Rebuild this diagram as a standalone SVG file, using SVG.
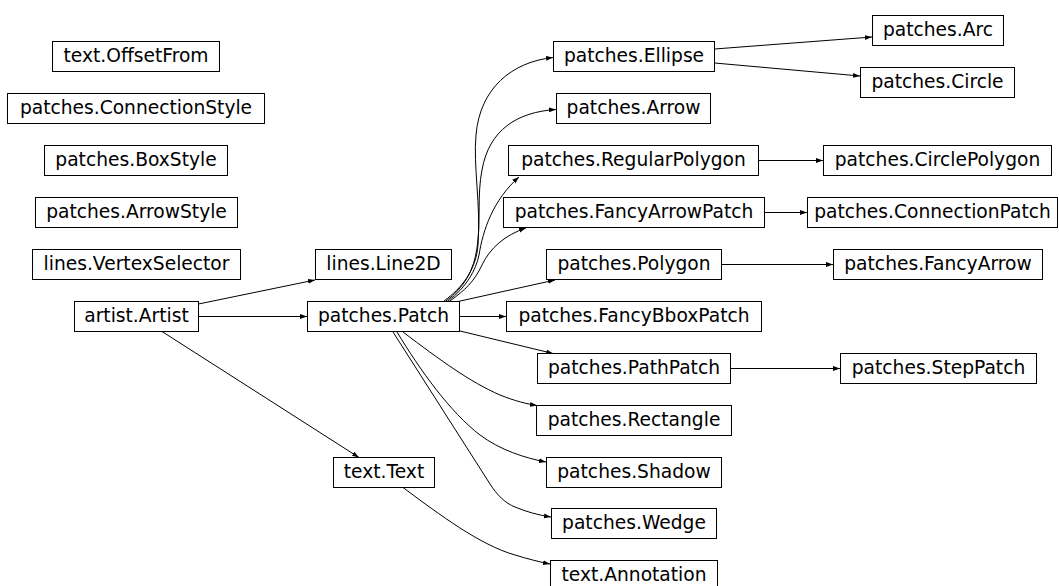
<svg xmlns="http://www.w3.org/2000/svg" width="1059" height="586" viewBox="0 0 1059 586">
<style>
.n rect{fill:#fff;stroke:#000;stroke-width:1}
.n text{font-family:"DejaVu Sans",sans-serif;font-size:18.67px;fill:#000;text-anchor:middle}
.e path{fill:none;stroke:#000;stroke-width:1;marker-end:url(#a)}
</style>
<defs>
<marker id="a" markerWidth="8" markerHeight="6" refX="7" refY="3" orient="auto" markerUnits="userSpaceOnUse"><path d="M0,0.6 L7,3 L0,5.4 z" fill="#000"/></marker>
</defs>
<rect width="1059" height="586" fill="#fff"/>
<g class="e" id="edges">
<path d="M198.5,304 L315,280"/>
<path d="M198.5,316.5 L307,316.5"/>
<path d="M162,331.5 L359,457.5"/>
<path d="M444,301 C462,288 476,270 478,245 C481,205 473,165 476,135 C480,88 512,62 553,57.5"/>
<path d="M446,301 C464,288 474,270 477,248 C481,220 477,195 482,170 C489,130 517,112 556,109.5"/>
<path d="M448,301 C466,288 476,270 479,255 C483,230 493,200 519,177"/>
<path d="M450,301 C465,290 474,282 482,265 C490,248 505,235 526,228"/>
<path d="M458,301.5 L555,280"/>
<path d="M459.5,316.5 L506,316.5"/>
<path d="M460,331 L553,353.5"/>
<path d="M403,332 C440,360 470,382 500,395 C515,401 527,404 537,405.5"/>
<path d="M397,332 C420,370 450,412 480,435 C500,450 525,458 546,462"/>
<path d="M393,332 L490,484 C497,495 505,503 515,507 C527,512 538,515 551,517"/>
<path d="M403,487.5 C440,515 480,545 515,555 C528,559 540,562 550,564"/>
<path d="M714.5,49 L872,37"/>
<path d="M714.5,63 L860,76"/>
<path d="M758.5,160.5 L823,160.5"/>
<path d="M764.5,212.5 L807,212.5"/>
<path d="M721.5,264.5 L833,264.5"/>
<path d="M730.5,368.5 L840,368.5"/>
</g>
<g class="n" id="text_OffsetFrom"><rect x="52.5" y="41.5" width="167" height="30"/><text x="136" y="62.1">text.OffsetFrom</text></g>
<g class="n" id="patches_ConnectionStyle"><rect x="7.5" y="93.5" width="257" height="30"/><text x="136" y="114.1">patches.ConnectionStyle</text></g>
<g class="n" id="patches_BoxStyle"><rect x="44.5" y="145.5" width="183" height="30"/><text x="136" y="166.1">patches.BoxStyle</text></g>
<g class="n" id="patches_ArrowStyle"><rect x="35.5" y="197.5" width="202" height="30"/><text x="136.5" y="218.1">patches.ArrowStyle</text></g>
<g class="n" id="lines_VertexSelector"><rect x="32.5" y="249.5" width="208" height="30"/><text x="136.5" y="270.1">lines.VertexSelector</text></g>
<g class="n" id="artist_Artist"><rect x="74.5" y="301.5" width="124" height="30"/><text x="136.5" y="322.1">artist.Artist</text></g>
<g class="n" id="lines_Line2D"><rect x="315.5" y="249.5" width="136" height="30"/><text x="383.5" y="270.1">lines.Line2D</text></g>
<g class="n" id="patches_Patch"><rect x="307.5" y="301.5" width="152" height="30"/><text x="383.5" y="322.1">patches.Patch</text></g>
<g class="n" id="text_Text"><rect x="333.5" y="457.5" width="101" height="30"/><text x="384" y="478.1">text.Text</text></g>
<g class="n" id="patches_Ellipse"><rect x="553.5" y="41.5" width="161" height="30"/><text x="634" y="62.1">patches.Ellipse</text></g>
<g class="n" id="patches_Arrow"><rect x="556.5" y="93.5" width="154" height="30"/><text x="633.5" y="114.1">patches.Arrow</text></g>
<g class="n" id="patches_RegularPolygon"><rect x="508.5" y="145.5" width="250" height="30"/><text x="633.5" y="166.1">patches.RegularPolygon</text></g>
<g class="n" id="patches_FancyArrowPatch"><rect x="503.5" y="197.5" width="261" height="30"/><text x="634" y="218.1">patches.FancyArrowPatch</text></g>
<g class="n" id="patches_Polygon"><rect x="546.5" y="249.5" width="175" height="30"/><text x="634" y="270.1">patches.Polygon</text></g>
<g class="n" id="patches_FancyBboxPatch"><rect x="506.5" y="301.5" width="255" height="30"/><text x="634" y="322.1">patches.FancyBboxPatch</text></g>
<g class="n" id="patches_PathPatch"><rect x="537.5" y="353.5" width="193" height="30"/><text x="634" y="374.1">patches.PathPatch</text></g>
<g class="n" id="patches_Rectangle"><rect x="536.5" y="405.5" width="195" height="30"/><text x="634" y="426.1">patches.Rectangle</text></g>
<g class="n" id="patches_Shadow"><rect x="546.5" y="457.5" width="175" height="30"/><text x="634" y="478.1">patches.Shadow</text></g>
<g class="n" id="patches_Wedge"><rect x="551.5" y="508.5" width="165" height="30"/><text x="634" y="529.1">patches.Wedge</text></g>
<g class="n" id="text_Annotation"><rect x="550.5" y="560.5" width="167" height="30"/><text x="634" y="581.1">text.Annotation</text></g>
<g class="n" id="patches_Arc"><rect x="872.5" y="15.5" width="131" height="30"/><text x="938" y="36.1">patches.Arc</text></g>
<g class="n" id="patches_Circle"><rect x="860.5" y="67.5" width="154" height="30"/><text x="937.5" y="88.1">patches.Circle</text></g>
<g class="n" id="patches_CirclePolygon"><rect x="823.5" y="145.5" width="228" height="30"/><text x="937.5" y="166.1">patches.CirclePolygon</text></g>
<g class="n" id="patches_ConnectionPatch"><rect x="807.5" y="197.5" width="250" height="30"/><text x="932.5" y="218.1">patches.ConnectionPatch</text></g>
<g class="n" id="patches_FancyArrow"><rect x="833.5" y="249.5" width="209" height="30"/><text x="938" y="270.1">patches.FancyArrow</text></g>
<g class="n" id="patches_StepPatch"><rect x="840.5" y="353.5" width="196" height="30"/><text x="938.5" y="374.1">patches.StepPatch</text></g>
</svg>
